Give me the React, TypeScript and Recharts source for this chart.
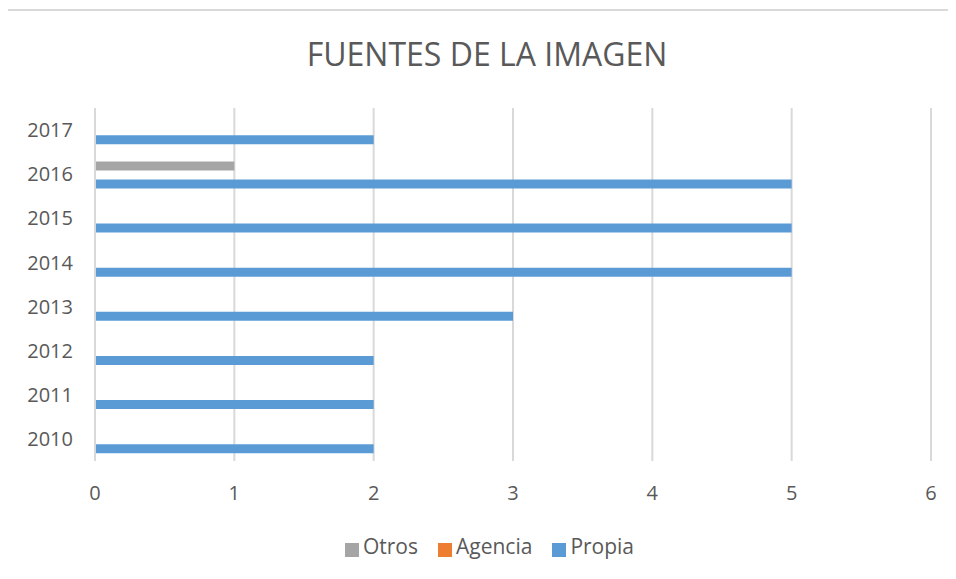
import React from "react";
import {
  BarChart,
  Bar,
  CartesianGrid,
  XAxis,
  YAxis,
  Legend,
} from "recharts";

// values (Excel-style clustered bar)
const years = ["2010", "2011", "2012", "2013", "2014", "2015", "2016", "2017"];
const propia = [2, 2, 2, 3, 5, 5, 5, 2];
const agencia = [0, 0, 0, 0, 0, 0, 0, 0];
const otros = [0, 0, 0, 0, 0, 0, 1, 0];
const xTicks = [0, 1, 2, 3, 4, 5, 6];
const legendOrder = ["Otros", "Agencia", "Propia"];

const FONT = "'Open Sans', sans-serif";
const TEXT = "#595959";
const GRID = "#d9d9d9";

const data = years.map((year, i) => ({
  year,
  Propia: propia[i],
  Agencia: agencia[i],
  Otros: otros[i],
}));

export default function App() {
  return (
    <>
      <style>{`html, body { overflow: hidden; }`}</style>
      <div
        style={{
          position: "relative",
          left: -2,
          top: 1,
          width: 952,
          height: 560,
          boxSizing: "border-box",
          borderLeft: `2px solid ${GRID}`,
          borderTop: `2px solid ${GRID}`,
          overflow: "hidden",
          fontFamily: FONT,
          background: "#fff",
        }}
      >
        <div
          style={{
            position: "absolute",
            left: 179,
            top: 23,
            width: 600,
            lineHeight: "40px",
            textAlign: "center",
            fontSize: 32,
            color: TEXT,
          }}
        >
          FUENTES DE LA IMAGEN
        </div>
        <BarChart
          width={940}
          height={555}
          data={data}
          layout="vertical"
          margin={{ top: 97, right: 17, bottom: 6, left: 0 }}
          barCategoryGap="21%"
          barGap={0}
        >
          <CartesianGrid horizontal={false} stroke={GRID} strokeWidth={2} />
          <XAxis
            type="number"
            domain={[0, 6]}
            ticks={xTicks}
            axisLine={false}
            tickLine={false}
            tickSize={0}
            tickMargin={25}
            height={71}
            tick={{ fill: TEXT, fontSize: 20, fontFamily: FONT }}
          />
          <YAxis
            type="category"
            dataKey="year"
            reversed
            width={87}
            axisLine={{ stroke: GRID, strokeWidth: 2 }}
            tickLine={false}
            tickSize={0}
            tickMargin={22}
            tick={{ fill: TEXT, fontSize: 20, fontFamily: FONT }}
          />
          <Legend
            verticalAlign="bottom"
            iconType="square"
            iconSize={14}
            itemSorter={(item: any) => legendOrder.indexOf(String(item.value))}
            wrapperStyle={{ paddingLeft: 30 }}
            formatter={(value: string) => (
              <span style={{ color: TEXT, fontSize: 21, marginRight: 10 }}>{value}</span>
            )}
          />
          <Bar dataKey="Otros" fill="#a5a5a5" isAnimationActive={false} />
          <Bar dataKey="Agencia" fill="#ed7d31" isAnimationActive={false} />
          <Bar dataKey="Propia" fill="#5b9bd5" isAnimationActive={false} />
        </BarChart>
      </div>
    </>
  );
}
